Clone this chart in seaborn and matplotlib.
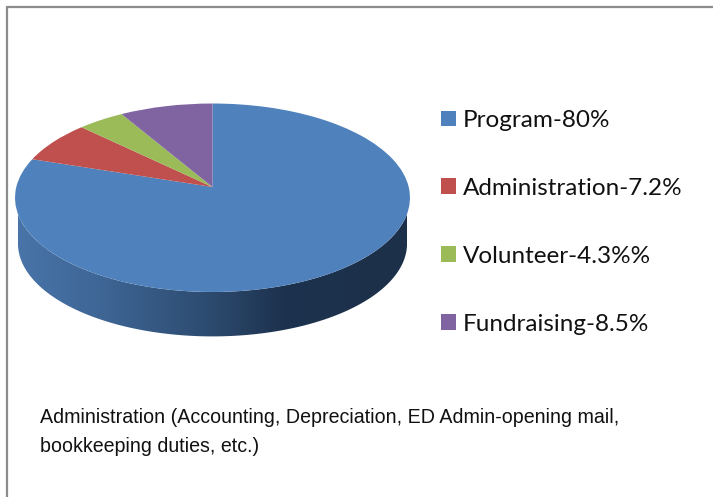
import numpy as np
import matplotlib
matplotlib.use("Agg")
import matplotlib.pyplot as plt
import seaborn as sns
from matplotlib.colors import LinearSegmentedColormap
from matplotlib.patches import Polygon
from matplotlib.transforms import Transform

categories = ["Program", "Administration", "Volunteer", "Fundraising"]
shares = [80, 7.2, 4.3, 8.5]
legend_labels = ["Program-80%", "Administration-7.2%", "Volunteer-4.3%%", "Fundraising-8.5%"]
colors = ["#4f81bd", "#c0504d", "#9bbb59", "#8064a2"]
wall_colors = ["#4874a8", "#3f6797", "#2c4a6e", "#1d324e", "#1c3049"]
wall_stops = [0.0, 0.2, 0.5, 0.68, 1.0]
caption = "Administration (Accounting, Depreciation, ED Admin-opening mail,\nbookkeeping duties, etc.)"

sns.set_style("white")
plt.rcParams["font.family"] = ["Lato", "DejaVu Sans"]


# tilted pie: maps the unit circle to pixels with a bit of perspective
class Tilt(Transform):
    input_dims = 2
    output_dims = 2

    def __init__(self, cx=212.5, cy=187, a=196.2, b=93, k=0.114, shrink=1, drop=0):
        super().__init__()
        self.args = (cx, cy, a * shrink, b * shrink, k, drop)

    def transform_non_affine(self, xy):
        cx, cy, a, b, k, drop = self.args
        xy = np.asarray(xy)
        d = 1 + k * xy[:, 1]
        return np.column_stack([cx + a * xy[:, 0] / d, cy + drop - b * xy[:, 1] / d])


fig = plt.figure(figsize=(7.13, 4.97), dpi=100)
ax = fig.add_axes([0, 0, 1, 1])

wedges, _ = ax.pie(shares, colors=colors, startangle=90, counterclock=False,
                   wedgeprops={"linewidth": 0})
top = Tilt()
for w in wedges:
    w.set_transform(top + ax.transData)

# side wall of the pie
t = np.linspace(0, 2 * np.pi, 721)
circle = np.column_stack([np.cos(t), np.sin(t)])
upper = top.transform_non_affine(circle)
lower = Tilt(shrink=0.985, drop=46).transform_non_affine(circle)
front_up = upper[upper[:, 1] >= 198]
front_low = lower[lower[:, 1] >= 244]
front_up = front_up[np.argsort(front_up[:, 0])]
front_low = front_low[np.argsort(front_low[:, 0])]
outline = np.vstack([front_up, front_low[::-1]])

wall_cmap = LinearSegmentedColormap.from_list("wall", list(zip(wall_stops, wall_colors)))
wall = ax.imshow(np.linspace(0, 1, 400)[None, :], cmap=wall_cmap, aspect="auto",
                 extent=(18, 407, 340, 190), zorder=0)
wall.set_clip_path(Polygon(outline, closed=True, transform=ax.transData))

ax.set_aspect("auto")
ax.set_xlim(0, 713)
ax.set_ylim(497, 0)
ax.axis("off")

ax.plot([7, 7, 713], [497, 6.5, 6.5], color="#8c8c8c", lw=1.6, solid_joinstyle="miter")

ax.legend(wedges, legend_labels, loc="upper left", bbox_to_anchor=(441, 110),
          bbox_transform=ax.transData, frameon=False, fontsize=17.5,
          borderpad=0, borderaxespad=0, handlelength=0.62, handleheight=0.62,
          handletextpad=0.27, labelspacing=1.93, labelcolor="#111111")

ax.text(40, 423, caption.split("\n")[0], family="Liberation Sans", fontsize=14.15,
        color="#111111", va="baseline")
ax.text(40, 452, caption.split("\n")[1], family="Liberation Sans", fontsize=14.15,
        color="#111111", va="baseline")

fig.savefig("out.png", dpi=100)
